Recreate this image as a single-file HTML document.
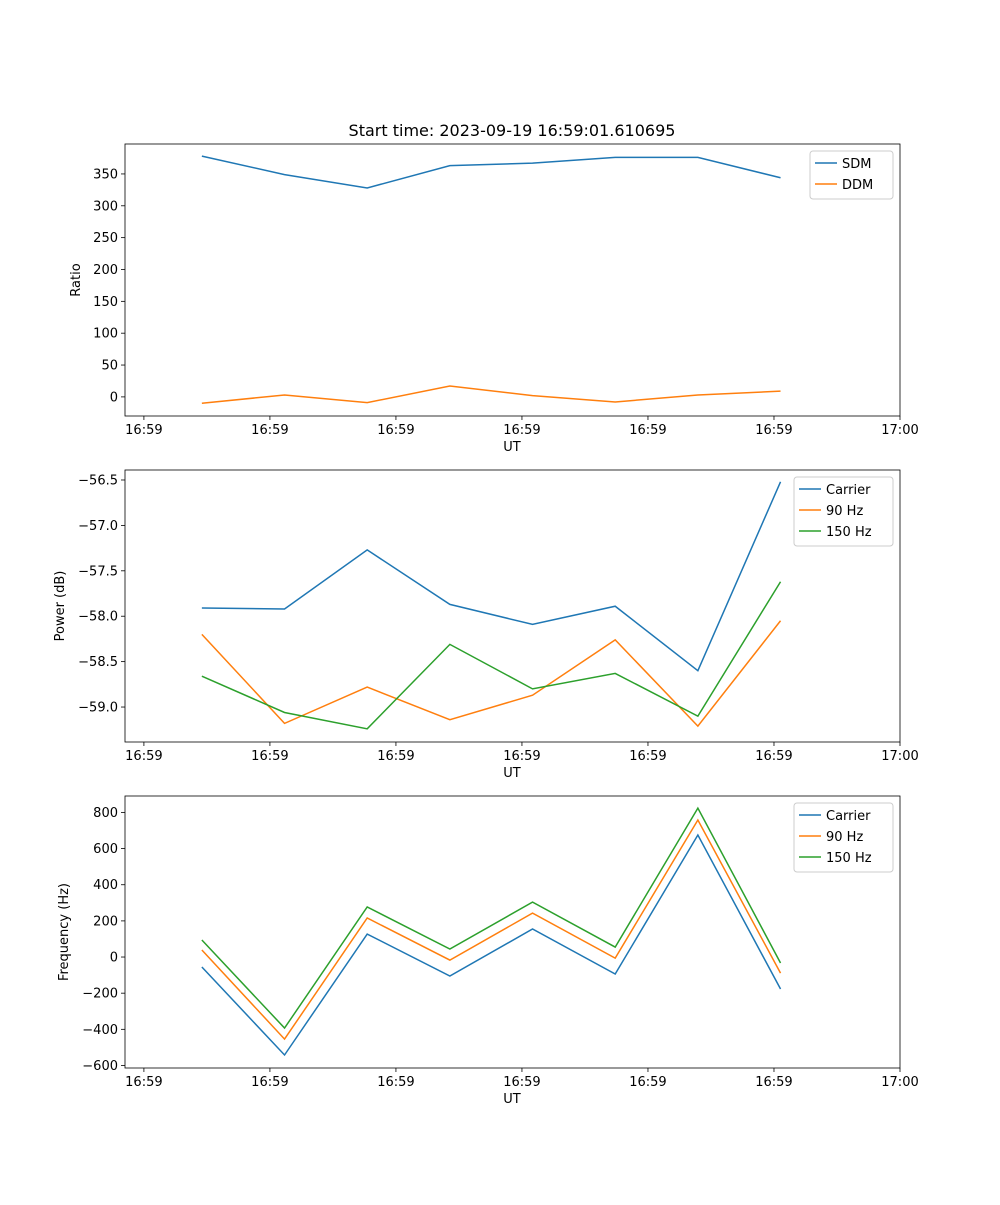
<!DOCTYPE html>
<html><head><meta charset="utf-8"><style>
body{margin:0;background:#fff;}
svg{font-family:"DejaVu Sans","Liberation Sans",sans-serif;}
</style></head><body>
<svg id="fig" width="1000" height="1200" viewBox="0 0 1000 1200"></svg>
<script>
// x: seconds after 16:59:00
const times=[4.6,11.16,17.72,24.28,30.84,37.4,43.96,50.52];
const xTickVals=[0,10,20,30,40,50,60];
const xTickLabels=["16:59","16:59","16:59","16:59","16:59","16:59","17:00"];
const sdm=[378,349,328,363,367,376,376,344];
const ddm=[-10,3,-9,17,2,-8,3,9];
const pCarrier=[-57.91,-57.92,-57.27,-57.87,-58.09,-57.89,-58.60,-56.52];
const p90=[-58.20,-59.18,-58.78,-59.14,-58.87,-58.26,-59.21,-58.05];
const p150=[-58.66,-59.06,-59.24,-58.31,-58.80,-58.63,-59.10,-57.62];
const fCarrier=[-55,-542,127,-105,155,-94,675,-177];
const f90=[39,-454,216,-17,243,-6,758,-89];
const f150=[94,-393,277,44,304,55,824,-33];
const ticks1=[0,50,100,150,200,250,300,350];
const ticks1Labels=["0","50","100","150","200","250","300","350"];
const ticks2=[-59.0,-58.5,-58.0,-57.5,-57.0,-56.5];
const ticks2Labels=["\u221259.0","\u221258.5","\u221258.0","\u221257.5","\u221257.0","\u221256.5"];
const ticks3=[-600,-400,-200,0,200,400,600,800];
const ticks3Labels=["\u2212600","\u2212400","\u2212200","0","200","400","600","800"];

const NS="http://www.w3.org/2000/svg";
const svg=document.getElementById('fig');
function mk(tag,attrs,parent){const e=document.createElementNS(NS,tag);for(const k in attrs)e.setAttribute(k,attrs[k]);(parent||svg).appendChild(e);return e;}
const L=125,R=900;
const xs=t=>L+(t-(-1.5))/(61.5)*(R-L);
const C=['#1f77b4','#ff7f0e','#2ca02c'];

function panel(name,top,bot,ymin,ymax,yt,ytl,ylabel,series,names,legendW){
  const g=mk('g',{});
  
  
  const ys=v=>bot-(v-ymin)/(ymax-ymin)*(bot-top);
  const xa=mk('g',{},g);
  
  
  xTickVals.forEach((v,i)=>{const x=xs(v);
    mk('line',{x1:x,x2:x,y1:bot,y2:bot+4,stroke:'#000','stroke-width':0.8},xa);
    const t=mk('text',{x:x,y:bot+18,'font-size':13,'text-anchor':'middle'},xa);t.textContent=xTickLabels[i];});
  const xl=mk('text',{x:512,y:bot+35,'font-size':13,'text-anchor':'middle'},g);xl.textContent='UT';
  
  
  const ya=mk('g',{},g);
  
  
  yt.forEach((v,i)=>{const y=ys(v);
    mk('line',{x1:L-4,x2:L,y1:y,y2:y,stroke:'#000','stroke-width':0.8},ya);
    const t=mk('text',{x:L-7,y:y+4.5,'font-size':13,'text-anchor':'end'},ya);t.textContent=ytl[i];});
  const yx=name==='ratio-panel'?80:(name==='power-panel'?64:68);
  const ylt=mk('text',{x:yx,y:(top+bot)/2,'font-size':13,'text-anchor':'middle',transform:`rotate(-90 ${yx} ${(top+bot)/2})`},g);ylt.textContent=ylabel;
  
  
  series.forEach((s,si)=>{
    const p=mk('polyline',{points:s.map((v,i)=>xs(times[i])+','+ys(v)).join(' '),fill:'none',stroke:C[si],'stroke-width':1.5},g);
    
    
  });
  mk('rect',{x:L,y:top,width:R-L,height:bot-top,fill:'none',stroke:'#000','stroke-width':0.8},g);
  const lg=mk('g',{},g);
  
  
  const lx=893-legendW, ly=top+7;
  mk('rect',{x:lx,y:ly,width:legendW,height:6+names.length*21,fill:'#fff',stroke:'#ccc','stroke-width':1,rx:3},lg);
  names.forEach((n,i)=>{const y=ly+12+i*21;
    mk('line',{x1:lx+5,x2:lx+27,y1:y,y2:y,stroke:C[i],'stroke-width':1.5},lg);
    const t=mk('text',{x:lx+32,y:y+5,'font-size':13},lg);t.textContent=n;});
}
const title=mk('text',{x:512,y:136,'font-size':16,'text-anchor':'middle'});
title.textContent='Start time: 2023-09-19 16:59:01.610695';


panel('ratio-panel',144,416,-30,397,ticks1,ticks1Labels,'Ratio',[sdm,ddm],['SDM','DDM'],83);
panel('power-panel',470,742,-59.385,-56.39,ticks2,ticks2Labels,'Power (dB)',[pCarrier,p90,p150],['Carrier','90 Hz','150 Hz'],99);
panel('frequency-panel',796,1068,-614,891,ticks3,ticks3Labels,'Frequency (Hz)',[fCarrier,f90,f150],['Carrier','90 Hz','150 Hz'],99);
</script>
</body></html>
